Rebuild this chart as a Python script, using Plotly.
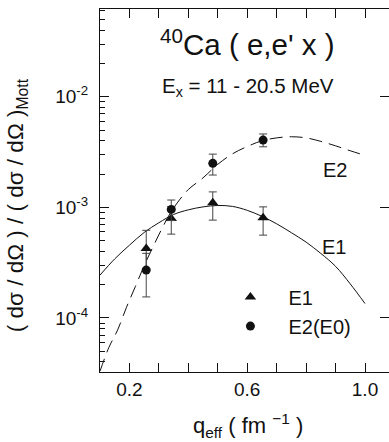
import plotly.graph_objects as go

# ---- data ----
q_pts = [0.257, 0.342, 0.483, 0.654]

e1_val = [4.25e-4, 7.95e-4, 1.10e-3, 8.05e-4]
e1_hi = [6.2e-4, 1.015e-3, 1.38e-3, 1.01e-3]
e1_lo = [2.8e-4, 5.73e-4, 7.67e-4, 5.61e-4]

e2_val = [2.71e-4, 9.59e-4, 2.50e-3, 4.06e-3]
e2_hi = [3.84e-4, 1.165e-3, 3.03e-3, 4.61e-3]
e2_lo = [1.55e-4, 7.6e-4, 1.96e-3, 3.53e-3]

e1_curve_q = [0.10, 0.15, 0.20, 0.25, 0.30, 0.35, 0.40, 0.45, 0.50, 0.55,
              0.60, 0.65, 0.70, 0.75, 0.80, 0.85, 0.90, 0.95, 1.00]
e1_curve = [2.44e-4, 3.42e-4, 4.55e-4, 5.93e-4, 7.26e-4, 8.62e-4, 9.5e-4,
            1.01e-3, 1.04e-3, 1.02e-3, 9.4e-4, 8.3e-4, 7.1e-4, 5.9e-4,
            4.85e-4, 3.83e-4, 2.93e-4, 2.03e-4, 1.35e-4]

e2_curve_q = [0.10, 0.13, 0.16, 0.19, 0.22, 0.25, 0.28, 0.31, 0.34, 0.37,
              0.40, 0.45, 0.50, 0.55, 0.60, 0.65, 0.70, 0.75, 0.80, 0.85,
              0.90, 0.95, 1.00]
e2_curve = [3.3e-5, 5.4e-5, 7.8e-5, 1.25e-4, 1.92e-4, 2.97e-4, 4.4e-4,
            6.4e-4, 9.0e-4, 1.17e-3, 1.45e-3, 1.85e-3, 2.45e-3, 3.05e-3,
            3.55e-3, 4.0e-3, 4.25e-3, 4.35e-3, 4.25e-3, 3.95e-3, 3.6e-3,
            3.25e-3, 2.95e-3]

x_tickvals = [0.2, 0.4, 0.6, 0.8, 1.0]
x_ticktext = ["0.2", "", "0.6", "", "1.0"]
x_minor = [0.1, 0.3, 0.5, 0.7, 0.9]
y_tickvals = [1e-4, 1e-3, 1e-2]
y_ticktext = ["10<sup>-4</sup>", "10<sup>-3</sup>", "10<sup>-2</sup>"]
y_minor = [m * 10.0 ** e for e in (-5, -4, -3, -2) for m in range(2, 10)]

FONT = "Liberation Sans, Arial, Helvetica, sans-serif"
INK = "#111111"

fig = go.Figure()

fig.add_trace(go.Scatter(x=e1_curve_q, y=e1_curve, mode="lines",
                         line=dict(color=INK, width=1, shape="spline"),
                         showlegend=False, hoverinfo="skip"))
fig.add_trace(go.Scatter(x=e2_curve_q, y=e2_curve, mode="lines",
                         line=dict(color=INK, width=1, dash="13px,7px", shape="spline"),
                         showlegend=False, hoverinfo="skip"))

fig.add_trace(go.Scatter(
    x=q_pts, y=e1_val, mode="markers", name="E1",
    marker=dict(symbol="triangle-up", size=10, color=INK),
    error_y=dict(type="data", symmetric=False,
                 array=[h - v for h, v in zip(e1_hi, e1_val)],
                 arrayminus=[v - l for v, l in zip(e1_val, e1_lo)],
                 color="#444444", thickness=1, width=4)))
fig.add_trace(go.Scatter(
    x=q_pts, y=e2_val, mode="markers", name="E2(E0)",
    marker=dict(symbol="circle", size=9, color=INK),
    error_y=dict(type="data", symmetric=False,
                 array=[h - v for h, v in zip(e2_hi, e2_val)],
                 arrayminus=[v - l for v, l in zip(e2_val, e2_lo)],
                 color="#444444", thickness=1, width=4)))

# invisible trace for the right-hand tick axis
fig.add_trace(go.Scatter(x=[0.5], y=[1e-3], yaxis="y2", mode="markers",
                         marker=dict(opacity=0), showlegend=False, hoverinfo="skip"))

y_range = [-4.4887, -1.2063]
x_range = [0.1, 1.0815]

fig.update_layout(
    width=389, height=442,
    margin=dict(l=100, r=0, t=9, b=70),
    paper_bgcolor="white", plot_bgcolor="white",
    font=dict(family=FONT, color=INK, size=19),
    showlegend=True,
    legend=dict(x=0.389, y=0.26, xanchor="left", yanchor="top",
                bgcolor="rgba(0,0,0,0)", font=dict(size=20), itemwidth=66),
    xaxis=dict(range=x_range, showgrid=False, zeroline=False,
               showline=True, linecolor=INK, linewidth=1, mirror="allticks",
               ticks="inside", ticklen=9, tickcolor=INK,
               tickvals=x_tickvals, ticktext=x_ticktext,
               tickfont=dict(size=19),
               minor=dict(tickvals=x_minor, ticks="inside", ticklen=5, tickcolor=INK)),
    yaxis=dict(type="log", range=y_range, showgrid=False, zeroline=False,
               showline=True, linecolor=INK, linewidth=1,
               ticks="inside", ticklen=9, tickcolor=INK,
               tickvals=y_tickvals, ticktext=y_ticktext,
               tickfont=dict(size=19), ticklabelstandoff=7,
               minor=dict(tickvals=y_minor, ticks="inside", ticklen=5, tickcolor=INK)),
    yaxis2=dict(type="log", range=y_range, overlaying="y", side="right",
                showgrid=False, zeroline=False, showline=False,
                ticks="inside", ticklen=9, tickcolor=INK,
                tickvals=y_tickvals, showticklabels=False),
)

def px2paper(px, py):
    return (px - 100.7) / 288.3, (371.7 - py) / 362.7

annots = [
    ("<sup>40</sup>Ca ( e,e' x )", 248, 42, 29.5, 0),
    ("E<sub>x</sub> = 11 - 20.5 MeV", 248, 87, 20.5, 0),
    ("E2", 335, 170, 20, 0),
    ("E1", 334, 247, 20, 0),
    ("q<sub>eff</sub> ( fm <sup>\u22121</sup> )", 248, 425, 22, 0),
    ("( d\u03c3 / d\u03a9 ) / ( d\u03c3 / d\u03a9 )<sub>Mott</sub>", 18, 205, 22.5, -90),
]
for text, px, py, size, ang in annots:
    xp, yp = px2paper(px, py)
    fig.add_annotation(text=text, x=xp, y=yp, xref="paper", yref="paper",
                       xanchor="center", yanchor="middle", showarrow=False,
                       textangle=ang, font=dict(size=size, family=FONT, color=INK))

fig.write_html("out.html")
